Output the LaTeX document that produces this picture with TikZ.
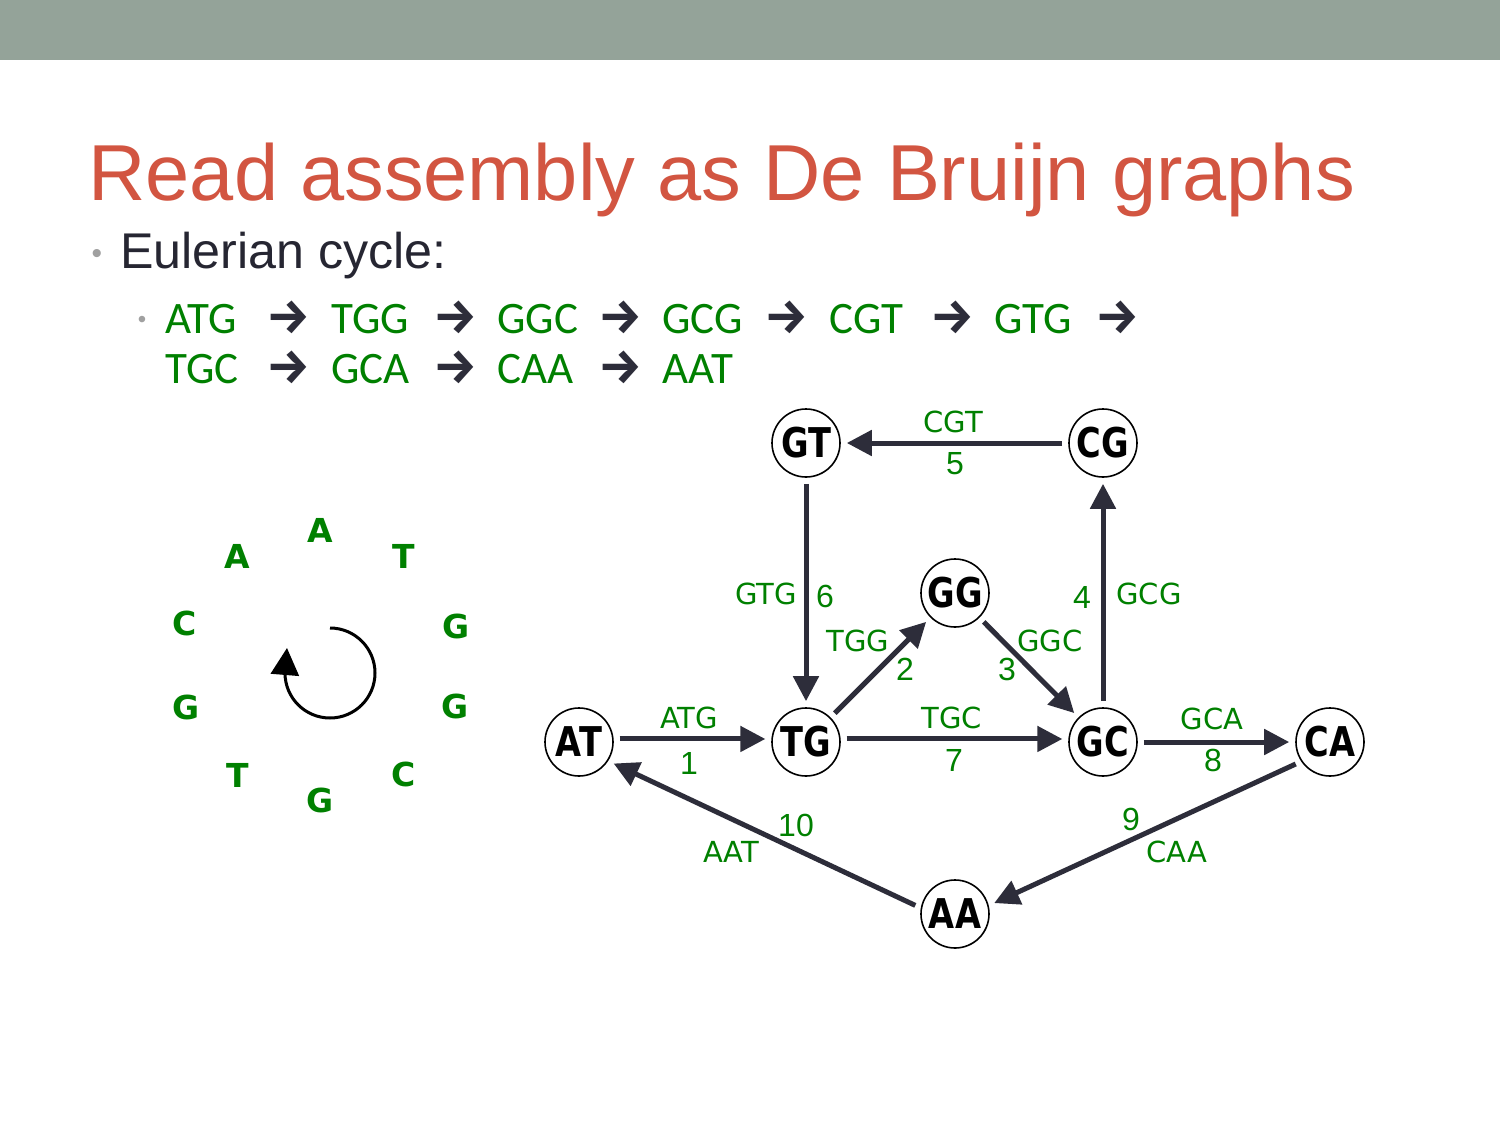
\documentclass[tikz,border=0pt]{standalone}
\usepackage{fontspec}
\usepackage{graphicx}
\setmainfont{Liberation Sans}
\newfontfamily\seqfont{Carlito}
\newfontfamily\dv{DejaVu Sans}
\newfontfamily\dvb{DejaVu Sans Bold}
\newfontfamily\fira{Fira Sans}
\usetikzlibrary{arrows.meta}
\definecolor{barcol}{RGB}{148,163,153}
\definecolor{titlecol}{RGB}{210,85,65}
\definecolor{textcol}{RGB}{38,38,50}
\definecolor{bulcol}{RGB}{160,160,160}
\definecolor{lgreen}{RGB}{0,128,0}
\definecolor{edgecol}{RGB}{45,45,58}
\tikzset{
  vert/.style={circle, draw=black, line width=0.8pt, minimum size=34pt, inner sep=0pt, fill=white,
    font=\dvb\fontsize{20.5}{24}\selectfont},
  edge/.style={draw=edgecol, line width=2.5pt, -{Triangle[length=12.5pt,width=12.5pt]},
    shorten >=3pt, shorten <=3pt},
  elab/.style={text=lgreen, inner sep=0pt, font=\dv\fontsize{14.5}{17}\selectfont},
  enum/.style={text=lgreen, inner sep=0pt, font=\fontsize{16}{19}\selectfont},
  seqtxt/.style={text=lgreen, inner sep=0pt, anchor=base west, font=\seqfont\fontsize{22.5}{27}\selectfont},
  seqarr/.style={text=edgecol, inner sep=0pt, anchor=base west, font=\fira\bfseries\fontsize{24.5}{29}\selectfont},
  ringlet/.style={text=lgreen, inner sep=0pt, font=\dvb\fontsize{16.5}{20}\selectfont},
  circarrow/.style={draw=black, line width=1.5pt, -{Triangle[length=13.5pt,width=14pt]}}
}
\newcommand{\nl}[1]{\scalebox{0.82}[1]{#1}}
\newcommand{\sarr}{→}
\begin{document}
\begin{tikzpicture}[x=0.5pt,y=-0.5pt]
\useasboundingbox (0,0) rectangle (1500,1125);
\fill[white] (0,0) rectangle (1500,1125);
\fill[barcol] (0,0) rectangle (1500,60);
% title
\node[anchor=base west, inner sep=0pt, text=titlecol, font=\fontsize{39.7}{47}\selectfont] (title) at (88,200) {Read assembly as De Bruijn graphs};
% bullet 1
\node[anchor=base, inner sep=0pt, text=bulcol, font=\fontsize{15}{18}\selectfont] (b1) at (97,263) {•};
\node[anchor=base west, inner sep=0pt, text=textcol, font=\fontsize{25.1}{30}\selectfont] (euler) at (120,268) {Eulerian cycle:};
% bullet 2
\node[anchor=base, inner sep=0pt, text=bulcol, font=\fontsize{12}{14}\selectfont] (b2) at (142,327) {•};
% sequence line 1
\node[seqtxt] (s1) at (165,333) {ATG};
\node[seqarr] (a1) at (266,333) {\sarr};
\node[seqtxt] (s2) at (331,333) {TGG};
\node[seqarr] (a2) at (433,333) {\sarr};
\node[seqtxt] (s3) at (497,333) {GGC};
\node[seqarr] (a3) at (598,333) {\sarr};
\node[seqtxt] (s4) at (662,333) {GCG};
\node[seqarr] (a4) at (764,333) {\sarr};
\node[seqtxt] (s5) at (829,333) {CGT};
\node[seqarr] (a5) at (930,333) {\sarr};
\node[seqtxt] (s6) at (994,333) {GTG};
\node[seqarr] (a6) at (1095,333) {\sarr};
% sequence line 2
\node[seqtxt] (s7) at (165,383) {TGC};
\node[seqarr] (a7) at (266,383) {\sarr};
\node[seqtxt] (s8) at (331,383) {GCA};
\node[seqarr] (a8) at (433,383) {\sarr};
\node[seqtxt] (s9) at (497,383) {CAA};
\node[seqarr] (a9) at (598,383) {\sarr};
\node[seqtxt] (s10) at (662,383) {AAT};
% ring of letters
\node[ringlet] (c1) at (320,530) {A};
\node[ringlet] (c2) at (404,556) {T};
\node[ringlet] (c3) at (456,626) {G};
\node[ringlet] (c4) at (455,706) {G};
\node[ringlet] (c5) at (404,774) {C};
\node[ringlet] (c6) at (320,800) {G};
\node[ringlet] (c7) at (238,775) {T};
\node[ringlet] (c8) at (186,707) {G};
\node[ringlet] (c9) at (185,623) {C};
\node[ringlet] (c10) at (237,556) {A};
\coordinate (arcstart) at (330,628);
\coordinate (arctip) at (287,648);
\draw[circarrow] (arcstart) arc[start angle=-90, end angle=180, radius=45] -- (arctip);
% graph nodes
\node[vert] (GT) at (806,443) {\nl{GT}};
\node[vert] (CG) at (1103,443) {\nl{CG}};
\node[vert] (GG) at (955,593) {\nl{GG}};
\node[vert] (AT) at (579,742) {\nl{AT}};
\node[vert] (TG) at (806,742) {\nl{TG}};
\node[vert] (GC) at (1103,742) {\nl{GC}};
\node[vert] (CA) at (1330,742) {\nl{CA}};
\node[vert] (AA) at (955,914) {\nl{AA}};
% edges
\draw[edge] (AT.5) -- (TG.175);
\draw[edge] (TG) -- (GG);
\draw[edge] (GG) -- (GC);
\draw[edge] (GC) -- (CG);
\draw[edge] (CG) -- (GT);
\draw[edge] (GT) -- (TG);
\draw[edge] (TG.5) -- (GC.175);
\draw[edge] (GC) -- (CA);
\draw[edge] (CA.214) -- (AA.14);
\draw[edge] (AA.170) -- (AT.-33);
% edge labels
\node[elab] (l1) at (689,718) {ATG};
\node[enum] (n1) at (689,763) {1};
\node[elab] (l2) at (858,641) {TGG};
\node[enum] (n2) at (905,669) {2};
\node[elab] (l3) at (1050,641) {GGC};
\node[enum] (n3) at (1007,669) {3};
\node[enum] (n4) at (1082,597) {4};
\node[elab] (l4) at (1149,594) {GCG};
\node[elab] (l5) at (953,422) {CGT};
\node[enum] (n5) at (955,464) {5};
\node[elab] (l6) at (766,594) {GTG};
\node[enum] (n6) at (825,596) {6};
\node[elab] (l7) at (952,718) {TGC};
\node[enum] (n7) at (954,760) {7};
\node[elab] (l8) at (1212,719) {GCA};
\node[enum] (n8) at (1213,760) {8};
\node[enum] (n9) at (1131,819) {9};
\node[elab] (l9) at (1177,852) {CAA};
\node[enum] (n10) at (796,825) {10};
\node[elab] (l10) at (731,852) {AAT};
\end{tikzpicture}
\end{document}
